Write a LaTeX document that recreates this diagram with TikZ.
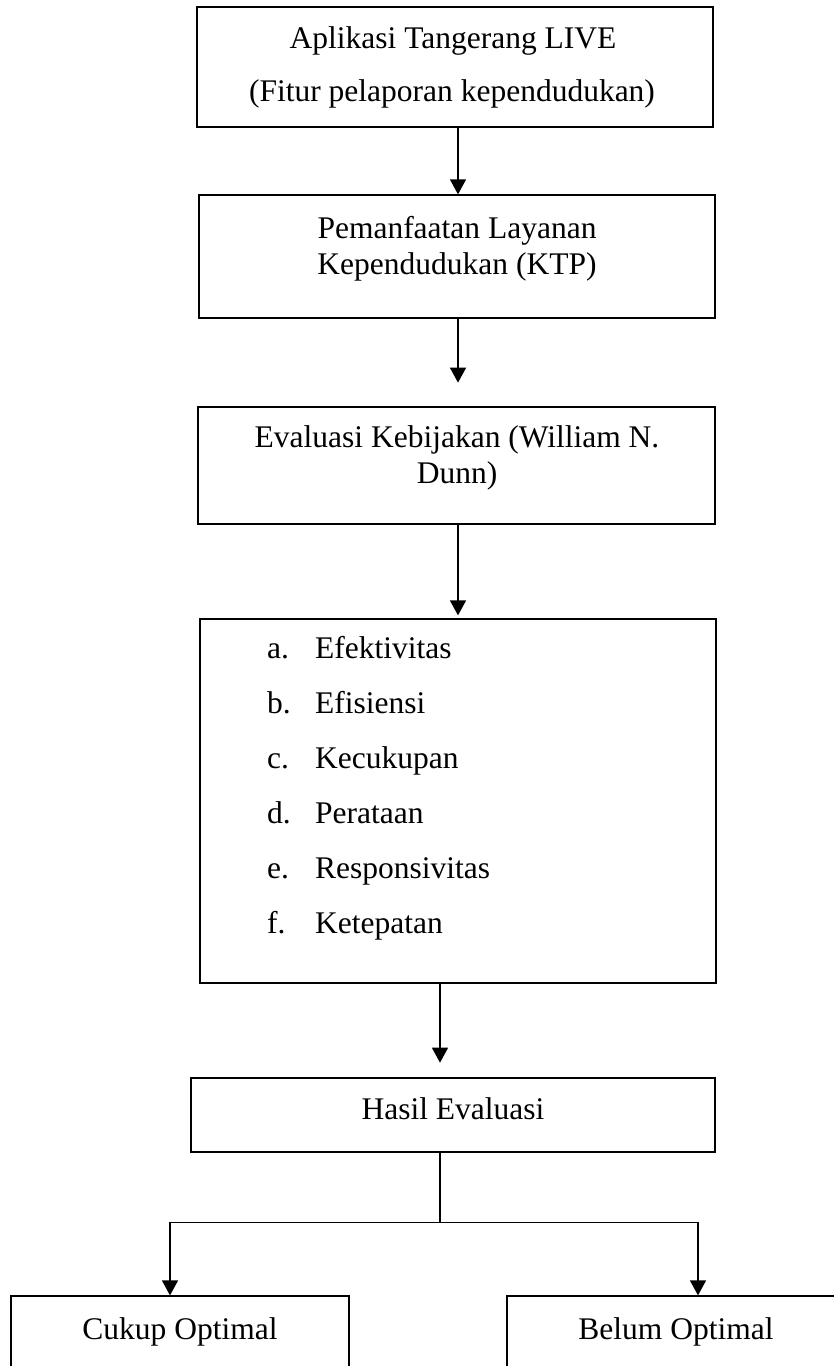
\documentclass[tikz,border=0pt]{standalone}
\usepackage{fontspec}
\setmainfont{Liberation Serif}
\usetikzlibrary{arrows.meta,calc}
\begin{document}
\begin{tikzpicture}[x=1pt,y=-1pt,
  box/.style={draw=black, line width=1.3pt, rectangle, inner sep=0pt},
  txt/.style={anchor=base, inner sep=0pt, font=\fontsize{31.5}{36}\selectfont},
  ltxt/.style={anchor=base west, inner sep=0pt, font=\fontsize{31.5}{36}\selectfont},
  arr/.style={line width=1.3pt, -{Triangle[width=16pt,length=15pt]}},
  ln/.style={line width=1.3pt}]
\useasboundingbox (0,0) rectangle (834,1366);
\fill[white] (0,0) rectangle (834,1366);
% boxes
\node[box, minimum width=516pt, minimum height=120pt] (b1) at (455,67) {};
\node[box, minimum width=516pt, minimum height=123pt] (b2) at (457,256.5) {};
\node[box, minimum width=517pt, minimum height=117pt] (b3) at (456.5,465.5) {};
\node[box, minimum width=516pt, minimum height=364pt] (b4) at (458,801) {};
\node[box, minimum width=524pt, minimum height=74pt] (b5) at (453,1115) {};
\node[box, minimum width=338pt, minimum height=84pt] (b6) at (180,1338) {};
\node[box, minimum width=338pt, minimum height=84pt] (b7) at (676,1338) {};
% texts
\node[txt] (t1a) at (453,48) {Aplikasi Tangerang LIVE};
\node[txt] (t1b) at (452,101) {(Fitur pelaporan kependudukan)};
\node[txt] (t2a) at (457,238) {Pemanfaatan Layanan};
\node[txt] (t2b) at (457,274) {Kependudukan (KTP)};
\node[txt] (t3a) at (457,447) {Evaluasi Kebijakan (William N.};
\node[txt] (t3b) at (457,483) {Dunn)};
\foreach \l/\w [count=\i from 0] in {a./Efektivitas, b./Efisiensi, c./Kecukupan, d./Perataan, e./Responsivitas, f./Ketepatan}{
  \node[ltxt] (l\i) at (267,658+55*\i) {\l};
  \node[ltxt] (w\i) at (315,658+55*\i) {\w};
}
\node[txt] (t5) at (453,1119) {Hasil Evaluasi};
\node[txt] (t6) at (180,1339) {Cukup Optimal};
\node[txt] (t7) at (676,1339) {Belum Optimal};
% connectors
\draw[arr] ($(b1.south)+(3,0)$) -- ($(b2.north)+(1,0)$);
\draw[arr] ($(b2.south)+(1,0)$) -- ($(b2.south)+(1,64)$);
\draw[arr] ($(b3.south)+(1.5,0)$) -- ($(b4.north)+(0,-3)$);
\coordinate (c4) at ($(b4.south)+(-18,0)$);
\draw[arr] (c4) -- ($(c4)+(0,79)$);
\coordinate (c5) at ($(b5.south)+(-13,0)$);
\coordinate (j) at ($(c5)+(0,70)$);
\draw[ln] (c5) -- (j);
\draw[arr] (j) -| ($(b6.north)+(-10,0)$);
\draw[arr] (j) -| ($(b7.north)+(22,0)$);
\end{tikzpicture}
\end{document}
